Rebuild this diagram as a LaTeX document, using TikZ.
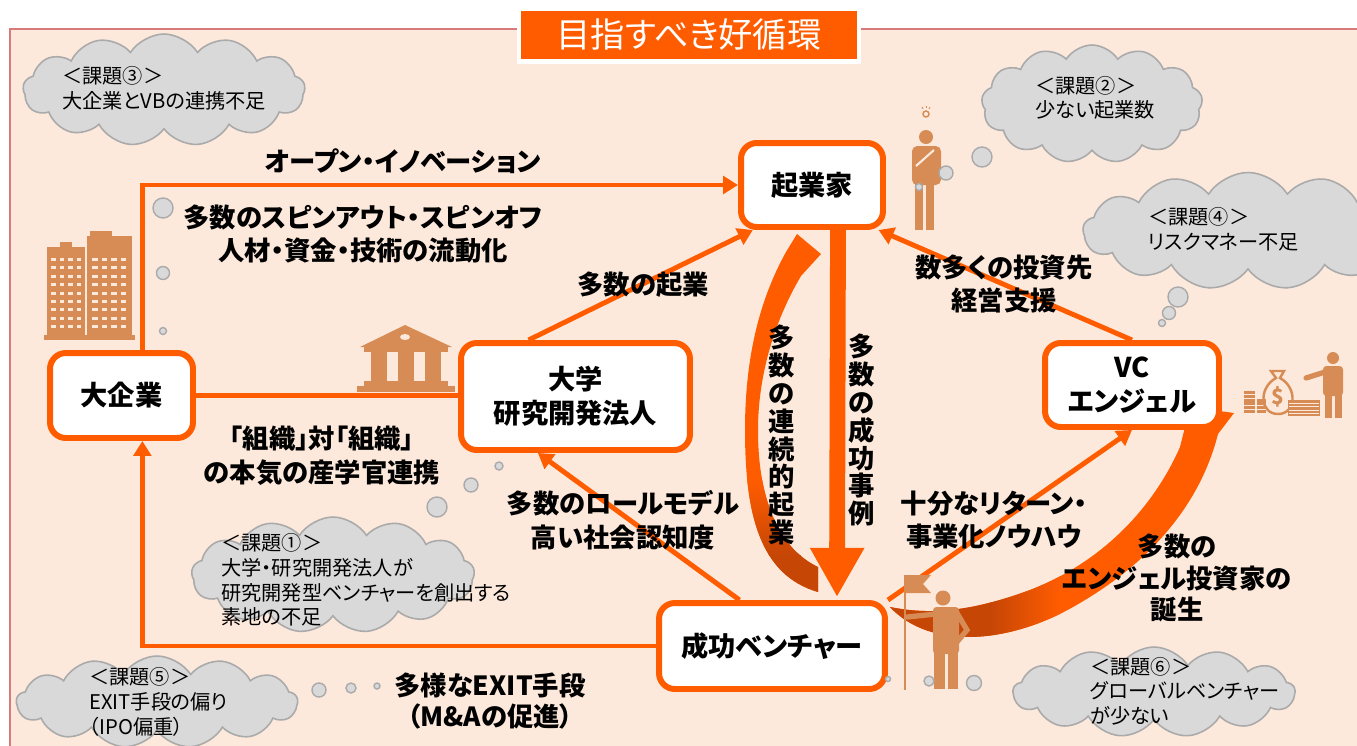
\documentclass[tikz,border=0pt]{standalone}
\usepackage{fontspec}
\setmainfont{Noto Sans CJK JP}[RawFeature=+palt]
\usetikzlibrary{calc}
\usetikzlibrary{arrows.meta}
\usetikzlibrary{shapes.symbols}

\definecolor{vorange}{RGB}{255,92,0}
\definecolor{vdark}{RGB}{198,70,6}
\definecolor{peach}{RGB}{252,233,220}
\definecolor{framered}{RGB}{214,122,122}
\definecolor{cloudgray}{RGB}{217,217,217}
\definecolor{cloudline}{RGB}{170,170,170}
\definecolor{icon}{RGB}{214,140,84}

\pgfdeclarelayer{back}
\pgfsetlayers{back,main}

\begin{document}
\begin{tikzpicture}[x=0.02cm, y=-0.02cm,
  actor/.style={draw=vorange, line width=3.4pt, fill=white, rounded corners=9pt, align=center, font=\bfseries\fontsize{15.5}{19.5}\selectfont},
  link/.style={draw=vorange, line width=2.8pt, -{Triangle[length=8.5pt,width=10pt]}},
  lbl/.style={align=center, inner sep=1pt, font=\bfseries\fontsize{15}{19.3}\selectfont},
  vlbl/.style={align=center, inner sep=1pt, font=\bfseries\fontsize{15}{15.9}\selectfont},
  issue/.style={cloud, cloud puffs=13, cloud puff arc=115, draw=cloudline, line width=0.9pt, fill=cloudgray, inner sep=0pt},
  issuetxt/.style={anchor=west, align=left, inner sep=0pt, font=\fontsize{11.5}{14}\selectfont},
  bubble/.style={draw=cloudline, line width=0.8pt, fill=cloudgray}]

\useasboundingbox (0,0) rectangle (1357,745);

% players
\node[actor, minimum width=2.84cm, minimum height=1.68cm] (kigyoka) at (812,185) {起業家};
\node[actor, minimum width=2.86cm, minimum height=1.7cm] (daikigyo) at (121.5,395.5) {大企業};
\node[actor, minimum width=4.58cm, minimum height=2.14cm] (daigaku) at (575.5,396.5) {大学\\研究開発法人};
\node[actor, minimum width=3.48cm, minimum height=1.68cm] (vc) at (1132,385) {VC\\エンジェル};
\node[actor, minimum width=4.52cm, minimum height=1.72cm] (seiko) at (772,646) {成功ベンチャー};

\begin{pgfonlayer}{back}
\fill[white] (0,0) rectangle (1357,745);
\draw[framered, line width=1pt, fill=peach] (10,29) rectangle (1400,800);

% issue clouds
\node[issue, minimum width=5.64cm, minimum height=2.24cm] (cloud3) at (164,90) {};
\node[issue, minimum width=4.42cm, minimum height=2.36cm] (cloud2) at (1092,104) {};
\node[issue, minimum width=6.6cm, minimum height=2.34cm] (cloud4) at (1248,231) {};
\node[issue, minimum width=5.66cm, minimum height=2.32cm] (cloud1) at (333,575) {};
\node[issue, minimum width=5.62cm, minimum height=1.84cm] (cloud5) at (157,702) {};
\node[issue, minimum width=5.64cm, minimum height=1.8cm] (cloud6) at (1154,692) {};

% buildings
\fill[icon] (47,247) rectangle (85,338);
\fill[icon] (60,242) rectangle (72,248);
\fill[icon] (87,236) rectangle (132,338);
\fill[icon] (90,231) rectangle (112,237);
\fill[icon] (44,335) rectangle (135,340);
\foreach \r in {0,...,8} {
  \foreach \c in {0,...,3} \fill[peach] (51+\c*8.5,258+\r*8.4) rectangle ++(4.5,3);
  \foreach \c in {0,...,3} \fill[peach] (92+\c*9.5,258+\r*8.4) rectangle ++(5.5,3);
}

% bank
\fill[icon] (360,347) -- (405,325) -- (452,347) -- cycle;
\fill[peach] (405,337) ellipse (5 and 3);
\fill[icon] (364,346) rectangle (448,352);
\foreach \x in {371,398,425} \fill[icon] (\x,351) rectangle ++(16,31);
\fill[icon] (364,381) rectangle (448,386);
\fill[icon] (357,386) rectangle (455,392);

% thinking person
\fill[icon] (926,137) circle (7);
\fill[icon, rounded corners=3pt] (912,146) rectangle (941,185);
\fill[icon] (915,182) rectangle (923,230);
\fill[icon] (926,182) rectangle (934,230);
\draw[peach, line width=1.2pt] (916,166) -- (934,150);
\draw[icon, line width=0.8pt] (926,114) circle (3);
\foreach \a in {-60,-90,-120} \draw[icon, line width=0.5pt] ($(926,114)+(\a:6)$) -- ($(926,114)+(\a:8)$);

% money and investor
\foreach \i in {0,...,5} \fill[icon] (1244,413-\i*3.8) rectangle ++(11,-3);
\foreach \i in {0,...,3} \fill[icon] (1257,413-\i*3.8) rectangle ++(9,-3);
\draw[icon, line width=1.4pt] (1271,371) -- (1284,371) -- (1280,378) .. controls (1298,388) and (1296,414) .. (1278,414) .. controls (1260,414) and (1258,388) .. (1276,378) -- cycle;
\node[text=icon, inner sep=0pt, font=\bfseries\fontsize{12}{12}\selectfont] (dollar) at (1278,397) {\$};
\fill[icon] (1288,400) rectangle (1320,416);
\foreach \i in {0,...,3} \draw[peach, line width=0.4pt] (1289,403+\i*3.5) -- (1319,403+\i*3.5);
\fill[icon] (1333,358) circle (6);
\fill[icon, rounded corners=2pt] (1323,366) rectangle (1343,396);
\fill[icon] (1325,394) rectangle (1332,418);
\fill[icon] (1335,394) rectangle (1342,418);
\draw[icon, line width=3pt, line cap=round] (1325,372) -- (1306,378);

% connectors
\draw[link] ($(daikigyo.north west)!0.64!(daikigyo.north east)$) |- (kigyoka.west);
\draw[draw=vorange, line width=2.8pt] (daikigyo.east) -- (daikigyo.east -| daigaku.west);
\draw[link] ($(daigaku.north west)!0.3!(daigaku.north east)$) -- ($(kigyoka.south west)!0.1!(kigyoka.south east)$);
\draw[link] ($(seiko.north west)!0.36!(seiko.north east)$) -- ($(daigaku.south west)!0.34!(daigaku.south east)$);
\draw[link] (seiko.west) -| ($(daikigyo.south west)!0.64!(daikigyo.south east)$);
\draw[link] (vc.north) -- ($(kigyoka.south east)!0.05!(kigyoka.south west)$);
\draw[link] (seiko.north east) -- (vc.south);
\draw[vorange, line width=9pt, -{Triangle[length=28pt,width=29pt]}] ($(kigyoka.south)+(26,0)$) -- ($(seiko.north)+(65,-3)$);

% serial start-ups
\begin{scope}
\clip (818,592) .. controls (760,575) and (745,515) .. (745,430) .. controls (745,345) and (765,290) .. (786,252) -- (797,234) -- (821,254) -- (801,276) .. controls (772,325) and (758,380) .. (758,430) .. controls (758,505) and (782,550) .. (818,567) -- cycle;
\fill[vorange] (700,200) rectangle (900,600);
\shade[top color=vorange, bottom color=vdark] (700,480) rectangle (900,555);
\fill[vdark] (700,554) rectangle (900,600);
\end{scope}

% angel investors
\begin{scope}
\clip (890,607) .. controls (930,650) and (1010,645) .. (1080,603) .. controls (1150,562) and (1200,505) .. (1218,434) -- (1234,413) -- (1190,407) -- (1180,447) .. controls (1150,515) and (1095,565) .. (1030,590) .. controls (965,614) and (925,614) .. (890,607) -- cycle;
\fill[vorange] (880,400) rectangle (1240,660);
\shade[left color=vdark, right color=vorange] (990,400) rectangle (1060,660);
\fill[vdark] (880,400) rectangle (991,660);
\end{scope}
\end{pgfonlayer}

% title
\node[fill=vorange, draw=white, line width=2.8pt, minimum width=6.8cm, minimum height=1.06cm, text=white, font=\fontsize{19.5}{21}\selectfont] (title) at (689,35) {目指すべき好循環};

% flag bearer
\draw[icon, line width=1.4pt] (905,575) -- (905,690);
\fill[icon] (905,575) -- (931,575) -- (923,584) -- (931,593) -- (905,593) -- cycle;
\fill[icon] (943,598) circle (7.5);
\fill[icon, rounded corners=2pt] (933,607) rectangle (959,654);
\draw[icon, line width=3pt, line cap=round] (936,614) -- (907,617);
\draw[icon, line width=3pt, line cap=round] (957,613) -- (967,630) -- (957,642);
\fill[icon] (934,650) rectangle (945,689);
\fill[icon] (948,650) rectangle (958,689);

% thought bubbles
\foreach \x/\y/\r in {163/208/10, 163/273/6.5, 163/331/3.5,
  982/157/10, 946/173/7, 919/187/3.5,
  1178/297/10, 1169/313/6.5, 1162/323/3.5,
  437/507/10, 471/485/7, 499/466/4,
  319/690/7, 351/688/5, 377/686/3,
  888/679/2.5, 929/681/5, 974/683/7.5}
  \draw[bubble] (\x,\y) circle (\r);

% issue texts
\node[issuetxt] (issue3) at (62,88) {＜課題③＞\\大企業とVBの連携不足};
\node[issuetxt] (issue2) at (1035,98) {＜課題②＞\\少ない起業数};
\node[issuetxt] (issue4) at (1148,229) {＜課題④＞\\リスクマネー不足};
\node[issuetxt] (issue1) at (221,580) {＜課題①＞\\大学・研究開発法人が\\研究開発型ベンチャーを創出する\\素地の不足};
\node[issuetxt] (issue5) at (89,702) {＜課題⑤＞\\EXIT手段の偏り\\（IPO偏重）};
\node[issuetxt] (issue6) at (1090,691) {＜課題⑥＞\\グローバルベンチャー\\が少ない};

% connector labels
\node[lbl] (lopen) at (403,161) {オープン・イノベーション};
\node[lbl] (lspin) at (363,234) {多数のスピンアウト・スピンオフ\\人材・資金・技術の流動化};
\node[lbl] (lstart) at (643,285) {多数の起業};
\node[lbl] (lsupport) at (1004,284) {数多くの投資先\\経営支援};
\node[lbl] (ltie) at (322,456) {「組織」対「組織」\\の本気の産学官連携};
\node[lbl] (lrole) at (623,520) {多数のロールモデル\\高い社会認知度};
\node[lbl] (lreturn) at (994,520) {十分なリターン・\\事業化ノウハウ};
\node[lbl, font=\bfseries\fontsize{15}{18}\selectfont] (langel) at (1177,578) {多数の\\エンジェル投資家の\\誕生};
\node[lbl, font=\bfseries\fontsize{15}{18}\selectfont] (lexit) at (490,701) {多様なEXIT手段\\（M\&Aの促進）};
\node[vlbl] (lserial) at (782,435) {多\\数\\の\\連\\続\\的\\起\\業};
\node[vlbl] (lcase) at (862,430) {多\\数\\の\\成\\功\\事\\例};

\end{tikzpicture}
\end{document}
